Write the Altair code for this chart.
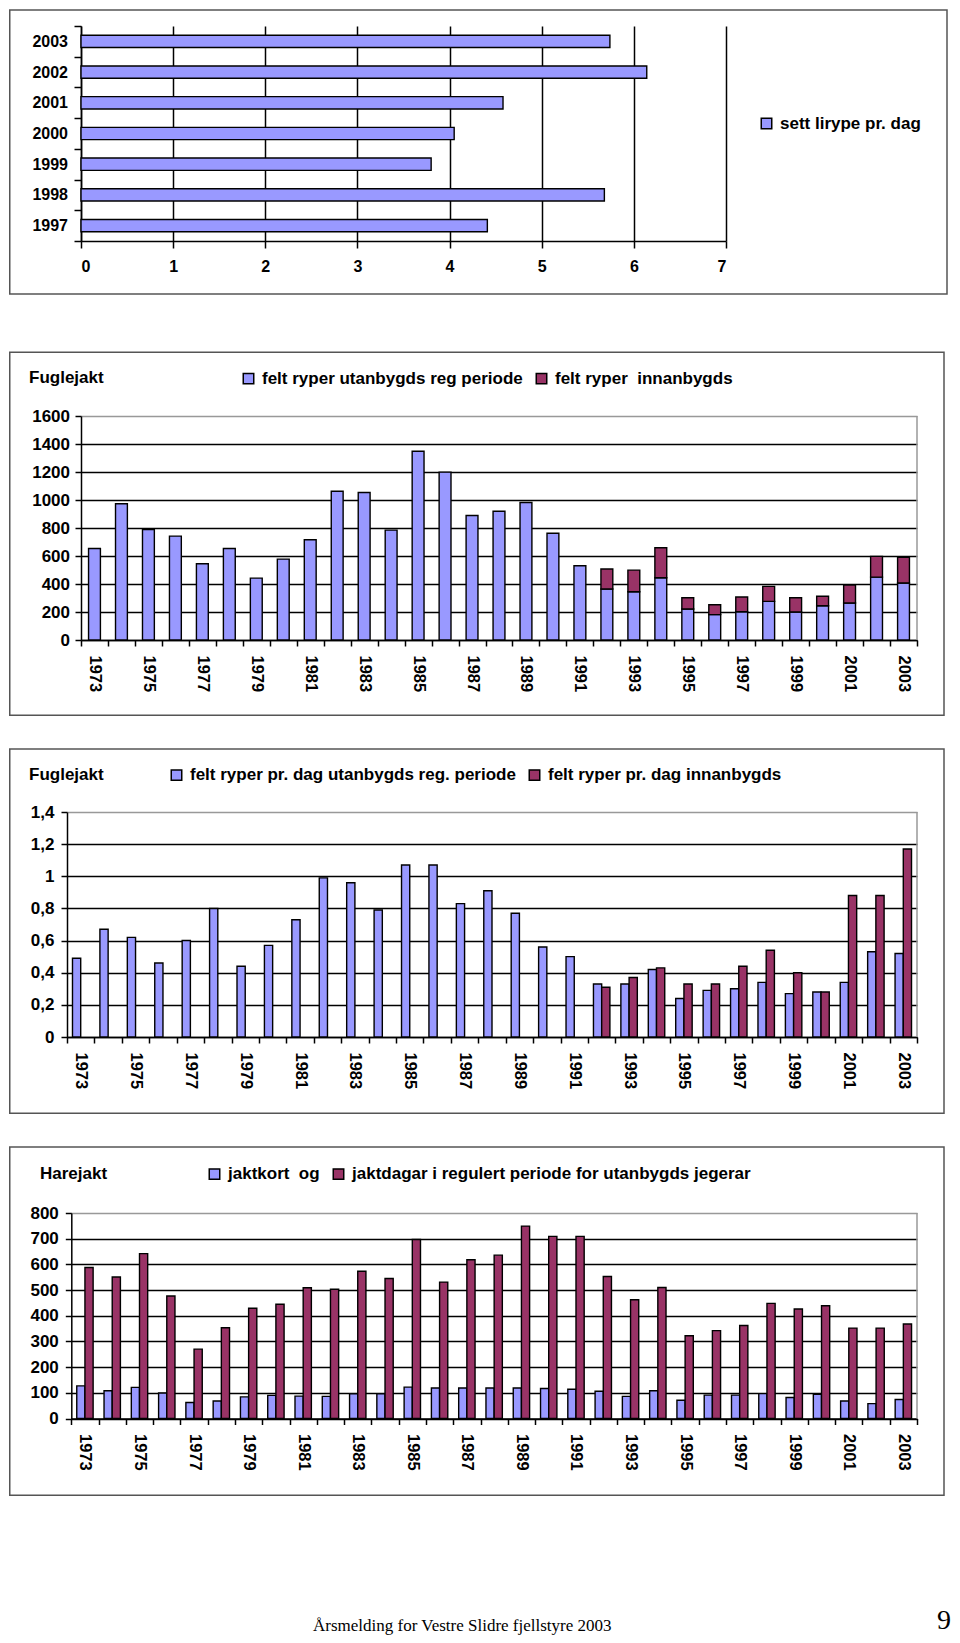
import altair as alt
import pandas as pd

# ---------------- data ----------------
years = list(range(1973, 2004))

p1_years = [1997, 1998, 1999, 2000, 2001, 2002, 2003]
p1_sett = [4.41, 5.68, 3.80, 4.05, 4.58, 6.14, 5.74]
p1_labels = ["sett lirype pr. dag"]

p2_labels = ["felt ryper utanbygds reg periode", "felt ryper \u00a0innanbygds"]
p2_utanbygds = [654, 973, 789, 742, 545, 654, 442, 578, 716, 1063, 1054, 785, 1348, 1199, 889,
                920, 982, 763, 530, 364, 345, 445, 221, 181, 202, 276, 200, 245, 264, 449, 407]
p2_innanbygds = [None] * 19 + [143, 154, 214, 81, 71, 105, 107, 102, 67, 128, 148, 183]

p3_labels = ["felt ryper pr. dag utanbygds reg. periode", "felt ryper pr. dag innanbygds"]
p3_utanbygds = [0.49, 0.67, 0.62, 0.46, 0.60, 0.80, 0.44, 0.57, 0.73, 0.99, 0.96, 0.79, 1.07, 1.07,
                0.83, 0.91, 0.77, 0.56, 0.50, 0.33, 0.33, 0.42, 0.24, 0.29, 0.30, 0.34, 0.27, 0.28,
                0.34, 0.53, 0.52]
p3_innanbygds = [None] * 19 + [0.31, 0.37, 0.43, 0.33, 0.33, 0.44, 0.54, 0.40, 0.28, 0.88, 0.88, 1.17]

p4_labels = ["jaktkort \u00a0og", "jaktdagar i regulert periode for utanbygds jegerar"]
p4_jaktkort = [127, 108, 121, 99, 62, 68, 84, 90, 87, 86, 96, 96, 122, 119, 119,
               119, 119, 117, 114, 106, 86, 108, 71, 91, 91, 97, 82, 94, 68, 58, 74]
p4_jaktdagar = [588, 551, 642, 477, 270, 353, 429, 445, 509, 503, 573, 545, 697, 531, 618,
                636, 749, 709, 709, 553, 462, 510, 322, 342, 362, 448, 426, 439, 352, 352, 368]

footer_text = "Årsmelding for Vestre Slidre fjellstyre 2003"
page_number = "9"

# ---------------- style ----------------
FONT = "Liberation Sans"
BLUE = "#9999FF"
RED = "#993366"
FRAME = "#555555"
BORDER = "#999999"
one = pd.DataFrame({"k": [0]})
FL = -71.25  # frame left, relative to each panel's origin


def box(x1, x2, y1, y2):
    return alt.Chart(one).mark_rect(fill="white", fillOpacity=0, stroke=FRAME, strokeWidth=1.5).encode(
        x=alt.value(x1), x2=alt.value(x2), y=alt.value(y1), y2=alt.value(y2))


def right_border(w, h):
    return alt.Chart(one).mark_rule(color=BORDER, strokeWidth=1.5).encode(
        x=alt.value(w), y=alt.value(0), y2=alt.value(h))


def spacer(y1, y2):
    return alt.Chart(one).mark_rect(opacity=0).encode(
        x=alt.value(0), x2=alt.value(5), y=alt.value(y1), y2=alt.value(y2))


def label(text, x, y, size=17, font=FONT, weight="bold", align="left"):
    return alt.Chart(one).mark_text(text=text, align=align, baseline="middle", font=font,
                                    fontSize=size, fontWeight=weight, color="black").encode(
        x=alt.value(x), y=alt.value(y))


def legend(lx, ly, direction="horizontal"):
    return alt.Legend(orient="none", legendX=lx, legendY=ly, direction=direction, title=None)


def year_axis():
    return alt.Axis(tickBand="extent", labelAngle=90, labelAlign="left", labelBaseline="middle",
                    labelFontSize=16.5, labelPadding=9, tickSize=6, labelOverlap=False,
                    labelExpr="datum.value % 2 == 1 ? datum.value : ''")


def year_scale(x0, x1):
    return alt.Scale(paddingInner=0, paddingOuter=0, range=[x0, x1])


# ---------------- panel 1 ----------------
W1, H1 = 645, 215
df1 = pd.DataFrame({"year": p1_years, "value": p1_sett, "serie": p1_labels[0]})
bars1 = alt.Chart(df1).mark_bar(height={"band": 0.4}, stroke="black", strokeWidth=1.4).encode(
    y=alt.Y("year:O", sort="descending", title=None, scale=alt.Scale(paddingInner=0, paddingOuter=0),
            axis=alt.Axis(tickBand="extent", labelFontSize=16, labelPadding=6.5, tickSize=7)),
    x=alt.X("value:Q", title=None, scale=alt.Scale(domain=[0, 7], nice=False),
            axis=alt.Axis(values=list(range(8)), grid=True, gridColor="black", tickSize=7,
                          labelPadding=10, labelFontSize=16, format="d")),
    color=alt.Color("serie:N", scale=alt.Scale(domain=p1_labels, range=[BLUE]),
                    legend=legend(677, 89, "vertical")),
)
panel1 = alt.layer(
    box(FL, 866, -16, 268),
    spacer(280, 294),
    bars1,
).properties(width=W1, height=H1, view=alt.ViewBackground(stroke="transparent"))

# ---------------- panel 2 ----------------
W2, H2 = 836, 224
rows2 = []
for yr, u, i in zip(years, p2_utanbygds, p2_innanbygds):
    rows2.append({"year": yr, "serie": p2_labels[0], "value": u, "ord": 0})
    if i is not None:
        rows2.append({"year": yr, "serie": p2_labels[1], "value": i, "ord": 1})
df2 = pd.DataFrame(rows2)
bars2 = alt.Chart(df2).mark_bar(width={"band": 0.44}, stroke="black", strokeWidth=1.4).encode(
    x=alt.X("year:O", title=None, scale=year_scale(0, W2), axis=year_axis()),
    y=alt.Y("value:Q", title=None, stack="zero", scale=alt.Scale(domain=[0, 1600], nice=False),
            axis=alt.Axis(values=list(range(0, 1601, 200)), labelPadding=5.5, tickSize=6, format="d",
                          gridColor={"condition": {"test": "datum.value >= 1600", "value": BORDER},
                                     "value": "black"})),
    color=alt.Color("serie:N", scale=alt.Scale(domain=p2_labels, range=[BLUE, RED]),
                    legend=legend(159, -46)),
    order=alt.Order("ord:Q"),
)
panel2 = alt.layer(
    box(FL, 863, -63.7, 299.2),
    right_border(W2, H2),
    label("Fuglejakt", -52, -38),
    bars2,
).properties(width=W2, height=H2, view=alt.ViewBackground(stroke="transparent"))

# ---------------- panel 3 ----------------
W3, H3 = 836, 225
X3 = -14
rows3 = []
for yr, u, i in zip(years, p3_utanbygds, p3_innanbygds):
    rows3.append({"year": yr, "serie": p3_labels[0], "value": u})
    if i is not None:
        rows3.append({"year": yr, "serie": p3_labels[1], "value": i})
df3 = pd.DataFrame(rows3)
bars3 = alt.Chart(df3).mark_bar(stroke="black", strokeWidth=1.4).encode(
    x=alt.X("year:O", title=None, scale=year_scale(X3, W3), axis=year_axis()),
    xOffset=alt.XOffset("serie:N", scale=alt.Scale(domain=p3_labels, paddingInner=0, paddingOuter=0.667)),
    y=alt.Y("value:Q", title=None, scale=alt.Scale(domain=[0, 1.4], nice=False),
            axis=alt.Axis(values=[0, 0.2, 0.4, 0.6, 0.8, 1, 1.2, 1.4], labelPadding=7, tickSize=6,
                          offset=-X3,
                          labelExpr="replace(format(datum.value, '~g'), '.', ',')",
                          gridColor={"condition": {"test": "datum.value >= 1.39", "value": BORDER},
                                     "value": "black"})),
    color=alt.Color("serie:N", scale=alt.Scale(domain=p3_labels, range=[BLUE, RED]),
                    legend=legend(87, -45.5)),
)
panel3 = alt.layer(
    box(FL, 863, -63, 301.25),
    right_border(W3, H3),
    label("Fuglejakt", -52, -37),
    bars3,
).properties(width=W3, height=H3, view=alt.ViewBackground(stroke="transparent"))

# ---------------- panel 4 ----------------
W4, H4 = 836, 205.5
X4 = -9.7
rows4 = []
for yr, a, b in zip(years, p4_jaktkort, p4_jaktdagar):
    rows4.append({"year": yr, "serie": p4_labels[0], "value": a})
    rows4.append({"year": yr, "serie": p4_labels[1], "value": b})
df4 = pd.DataFrame(rows4)
bars4 = alt.Chart(df4).mark_bar(stroke="black", strokeWidth=1.4).encode(
    x=alt.X("year:O", title=None, scale=year_scale(X4, W4), axis=year_axis()),
    xOffset=alt.XOffset("serie:N", scale=alt.Scale(domain=p4_labels, paddingInner=0, paddingOuter=0.667)),
    y=alt.Y("value:Q", title=None, scale=alt.Scale(domain=[0, 800], nice=False),
            axis=alt.Axis(values=list(range(0, 801, 100)), labelPadding=7, tickSize=6, format="d",
                          offset=-X4,
                          gridColor={"condition": {"test": "datum.value >= 800", "value": BORDER},
                                     "value": "black"})),
    color=alt.Color("serie:N", scale=alt.Scale(domain=p4_labels, range=[BLUE, RED]),
                    legend=legend(125, -47.5)),
)
panel4 = alt.layer(
    box(FL, 863, -65.95, 282.25),
    right_border(W4, H4),
    label("Harejakt", -41, -39),
    label(footer_text, 232, 413, size=17, font="Liberation Serif", weight="normal"),
    label(page_number, 870, 408, size=28, font="Liberation Serif", weight="normal", align="right"),
    bars4,
).properties(width=W4, height=H4, view=alt.ViewBackground(stroke="transparent"))

# ---------------- assemble ----------------
chart = alt.vconcat(panel1, panel2, panel3, panel4, spacing=30).properties(
    padding=0, background="white"
).resolve_scale(
    color="independent", x="independent", y="independent", xOffset="independent"
).configure_view(
    stroke="transparent"
).configure_axis(
    labelFont=FONT, labelFontWeight="bold", labelColor="black", labelFontSize=17,
    domainColor="black", domainWidth=1.5, tickColor="black", tickWidth=1.5,
    gridColor="black", gridWidth=1.5,
).configure_legend(
    labelFont=FONT, labelFontWeight="bold", labelFontSize=17, labelColor="black", labelLimit=900,
    symbolType="square", symbolSize=110, symbolStrokeColor="black", symbolStrokeWidth=1.5,
    padding=0, columnPadding=10, labelOffset=5,
)

chart.save("out.html", embed_options={"renderer": "svg", "actions": False})
